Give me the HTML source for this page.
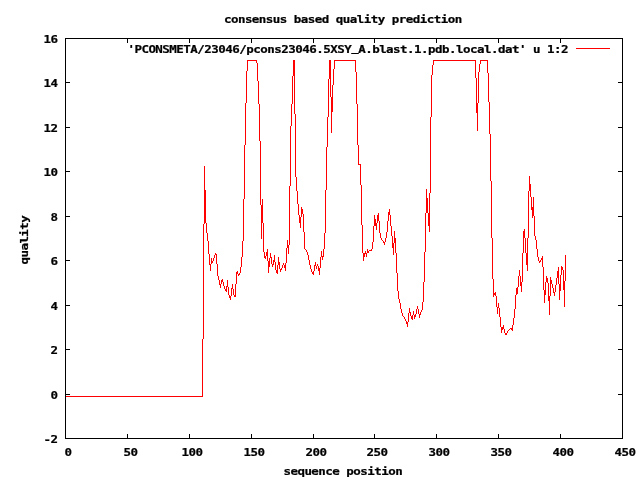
<!DOCTYPE html>
<html lang="en"><head><meta charset="utf-8"><title>consensus based quality prediction</title>
<style>html,body{margin:0;padding:0;background:#fff;width:640px;height:480px;overflow:hidden}svg{display:block}text{font-family:"DejaVu Sans Mono", "Liberation Mono", monospace;font-weight:bold;font-size:12.0px;fill:#000;stroke:#000;stroke-width:0.25px;white-space:pre;letter-spacing:-0.493px}</style></head><body>
<svg width="640" height="480" viewBox="0 0 640 480">
<rect width="640" height="480" fill="#fff"/>
<path fill="#f00" shape-rendering="crispEdges" d="M248 60h8v1h-8zM335 60h20v1h-20zM434 60h41v1h-41zM481 60h6v1h-6zM256 60h1v3h-1zM480 60h1v4h-1zM433 60h1v5h-1zM334 60h1v9h-1zM247 60h1v11h-1zM355 60h1v12h-1zM487 60h1v13h-1zM293 60h1v16h-1zM475 60h1v18h-1zM329 60h1v19h-1zM330 60h1v37h-1zM294 60h1v54h-1zM257 63h1v18h-1zM479 64h1v8h-1zM432 65h1v10h-1zM333 69h1v16h-1zM246 71h1v32h-1zM478 72h1v31h-1zM356 72h1v32h-1zM488 73h1v29h-1zM431 75h1v42h-1zM292 76h1v28h-1zM476 78h1v35h-1zM328 79h1v38h-1zM258 81h1v23h-1zM332 85h1v27h-1zM331 97h1v36h-1zM489 102h1v32h-1zM477 103h1v28h-1zM245 103h1v42h-1zM291 104h1v22h-1zM259 104h1v37h-1zM357 104h1v41h-1zM295 114h1v63h-1zM327 117h1v30h-1zM430 117h1v76h-1zM290 126h1v60h-1zM490 134h1v47h-1zM260 141h1v64h-1zM358 145h1v20h-1zM244 145h1v54h-1zM326 147h1v43h-1zM359 164h1v1h-1zM360 164h1v21h-1zM204 166h1v58h-1zM529 176h1v15h-1zM296 177h1v14h-1zM491 181h1v57h-1zM530 184h1v13h-1zM361 185h1v40h-1zM289 186h1v59h-1zM426 189h1v24h-1zM205 190h1v33h-1zM325 190h1v43h-1zM297 191h1v13h-1zM528 191h1v47h-1zM429 193h1v39h-1zM531 197h1v13h-1zM533 197h1v19h-1zM427 198h1v15h-1zM262 199h1v24h-1zM243 199h1v42h-1zM298 204h1v11h-1zM261 205h1v34h-1zM301 207h1v10h-1zM532 207h1v11h-1zM302 209h1v5h-1zM389 209h1v6h-1zM388 212h1v9h-1zM378 213h1v8h-1zM428 213h1v13h-1zM425 213h1v39h-1zM303 214h1v18h-1zM299 215h1v8h-1zM377 215h1v8h-1zM374 215h1v11h-1zM390 215h1v11h-1zM534 216h1v20h-1zM300 217h1v11h-1zM375 219h1v7h-1zM387 221h1v11h-1zM379 221h1v12h-1zM376 223h1v7h-1zM206 223h1v10h-1zM263 223h1v29h-1zM203 224h1v115h-1zM362 225h1v28h-1zM391 226h1v10h-1zM373 226h1v16h-1zM524 229h1v9h-1zM394 231h1v12h-1zM523 231h1v22h-1zM386 232h1v6h-1zM304 232h1v17h-1zM380 233h1v5h-1zM207 233h1v8h-1zM324 233h1v16h-1zM535 236h1v4h-1zM392 236h1v12h-1zM381 238h1v2h-1zM385 238h1v4h-1zM395 238h1v15h-1zM525 238h1v15h-1zM527 238h1v33h-1zM492 238h1v41h-1zM382 240h1v1h-1zM287 240h1v8h-1zM536 240h1v9h-1zM383 241h1v2h-1zM208 241h1v13h-1zM242 241h1v16h-1zM384 242h1v3h-1zM372 242h1v7h-1zM393 243h1v12h-1zM288 245h1v9h-1zM286 248h1v15h-1zM305 249h1v1h-1zM371 249h1v2h-1zM367 249h1v4h-1zM323 249h1v8h-1zM537 249h1v8h-1zM267 249h1v12h-1zM369 250h2v1h-2zM306 250h1v2h-1zM368 251h1v2h-1zM365 251h1v3h-1zM321 251h1v6h-1zM307 252h1v3h-1zM266 252h1v4h-1zM264 252h1v6h-1zM424 252h1v30h-1zM215 253h1v2h-1zM364 253h1v4h-1zM366 253h1v4h-1zM270 253h1v5h-1zM363 253h1v8h-1zM526 253h1v12h-1zM396 253h1v20h-1zM522 253h1v29h-1zM216 254h1v10h-1zM209 254h1v11h-1zM214 255h1v3h-1zM308 255h1v5h-1zM274 255h1v7h-1zM565 255h1v26h-1zM265 256h1v3h-1zM322 256h1v4h-1zM542 256h1v11h-1zM538 257h1v4h-1zM271 257h1v7h-1zM278 257h1v8h-1zM241 257h1v10h-1zM320 257h1v11h-1zM541 258h1v2h-1zM213 258h1v3h-1zM211 258h1v6h-1zM269 258h1v9h-1zM540 260h1v2h-1zM273 260h1v5h-1zM309 260h1v5h-1zM212 261h1v2h-1zM539 261h1v2h-1zM268 261h1v12h-1zM315 262h1v4h-1zM279 262h1v7h-1zM275 262h1v8h-1zM283 263h1v2h-1zM285 263h1v8h-1zM317 264h1v2h-1zM272 264h1v3h-1zM210 264h1v7h-1zM217 264h1v12h-1zM282 265h1v3h-1zM284 265h1v3h-1zM310 265h1v4h-1zM314 265h1v6h-1zM277 265h1v9h-1zM316 266h1v3h-1zM318 266h1v5h-1zM561 266h1v9h-1zM562 267h1v3h-1zM240 267h1v6h-1zM558 267h1v17h-1zM543 267h1v23h-1zM281 268h1v2h-1zM319 268h1v7h-1zM280 269h1v3h-1zM311 269h1v3h-1zM276 270h1v3h-1zM519 270h1v6h-1zM563 270h1v20h-1zM237 271h1v3h-1zM313 271h1v4h-1zM557 271h1v7h-1zM312 272h1v2h-1zM236 272h1v12h-1zM239 273h1v2h-1zM397 273h1v18h-1zM238 274h1v2h-1zM560 275h1v16h-1zM218 276h1v4h-1zM546 276h1v6h-1zM520 276h1v10h-1zM518 276h1v11h-1zM550 277h1v19h-1zM547 278h1v5h-1zM556 278h1v7h-1zM222 279h1v3h-1zM493 279h1v18h-1zM221 280h1v4h-1zM551 280h1v4h-1zM219 280h1v5h-1zM227 280h1v7h-1zM564 281h1v26h-1zM223 282h1v4h-1zM521 282h1v10h-1zM545 282h1v13h-1zM423 282h1v20h-1zM548 283h1v18h-1zM220 284h1v4h-1zM552 284h1v4h-1zM232 284h1v5h-1zM235 284h1v13h-1zM559 284h1v16h-1zM555 285h1v7h-1zM224 286h1v3h-1zM226 286h1v6h-1zM517 287h1v7h-1zM228 287h1v8h-1zM553 288h1v5h-1zM516 288h1v7h-1zM231 288h1v8h-1zM225 289h1v2h-1zM233 289h1v6h-1zM544 290h1v13h-1zM398 291h1v8h-1zM495 292h1v4h-1zM554 292h1v4h-1zM494 293h1v2h-1zM234 295h1v2h-1zM229 295h1v3h-1zM515 295h1v14h-1zM230 296h1v4h-1zM496 296h1v11h-1zM549 296h1v19h-1zM399 299h1v4h-1zM422 302h1v8h-1zM498 303h1v5h-1zM400 303h1v6h-1zM417 306h1v3h-1zM497 307h1v7h-1zM409 308h1v5h-1zM499 308h1v9h-1zM401 309h1v4h-1zM416 309h1v5h-1zM418 309h1v5h-1zM514 309h1v9h-1zM421 310h1v2h-1zM413 311h1v4h-1zM420 312h1v3h-1zM410 312h1v4h-1zM402 313h1v3h-1zM408 313h1v9h-1zM415 314h1v3h-1zM419 314h1v4h-1zM414 315h1v4h-1zM412 315h1v5h-1zM403 316h1v1h-1zM411 316h1v3h-1zM404 317h1v2h-1zM500 317h1v10h-1zM513 318h1v7h-1zM405 319h1v2h-1zM406 321h1v3h-1zM407 322h1v5h-1zM503 325h1v4h-1zM512 325h1v6h-1zM502 327h1v3h-1zM501 327h1v6h-1zM510 328h1v1h-1zM511 328h1v2h-1zM509 329h1v1h-1zM504 329h1v4h-1zM508 330h1v1h-1zM507 331h1v2h-1zM505 333h2v2h-2zM202 339h1v58h-1zM66 396h136v1h-136z"/>
<rect x="576" y="48" width="34" height="1" fill="#f00" shape-rendering="crispEdges"/>
<path fill="#000" shape-rendering="crispEdges" d="M65 38h558v1h-558zM65 438h558v1h-558zM65 38h1v401h-1zM622 38h1v401h-1zM65 434h1v5h-1zM65 38h1v5h-1zM127 434h1v5h-1zM127 38h1v5h-1zM189 434h1v5h-1zM189 38h1v5h-1zM251 434h1v5h-1zM251 38h1v5h-1zM313 434h1v5h-1zM313 38h1v5h-1zM374 434h1v5h-1zM374 38h1v5h-1zM436 434h1v5h-1zM436 38h1v5h-1zM498 434h1v5h-1zM498 38h1v5h-1zM560 434h1v5h-1zM560 38h1v5h-1zM622 434h1v5h-1zM622 38h1v5h-1zM65 438h5v1h-5zM618 438h5v1h-5zM65 394h5v1h-5zM618 394h5v1h-5zM65 349h5v1h-5zM618 349h5v1h-5zM65 305h5v1h-5zM618 305h5v1h-5zM65 260h5v1h-5zM618 260h5v1h-5zM65 216h5v1h-5zM618 216h5v1h-5zM65 171h5v1h-5zM618 171h5v1h-5zM65 127h5v1h-5zM618 127h5v1h-5zM65 82h5v1h-5zM618 82h5v1h-5zM65 38h5v1h-5zM618 38h5v1h-5z"/>
<g opacity="0.999"><text transform="translate(223.90 23.00) scale(1.0400 0.9000)">consensus based quality prediction</text>
<text transform="translate(127.40 53.00) scale(1.0400 0.9000)">'PCONSMETA/23046/pcons23046.5XSY<tspan dy="-2.4">_</tspan><tspan dy="2.4">A.blast.1.pdb.local.dat' u 1:2</tspan></text>
<text transform="translate(283.40 475.00) scale(1.0400 0.9000)">sequence position</text>
<text transform="translate(64.40 456.00) scale(1.0400 0.9000)">0</text>
<text transform="translate(123.40 456.00) scale(1.0400 0.9000)">50</text>
<text transform="translate(181.40 456.00) scale(1.0400 0.9000)">100</text>
<text transform="translate(243.40 456.00) scale(1.0400 0.9000)">150</text>
<text transform="translate(305.40 456.00) scale(1.0400 0.9000)">200</text>
<text transform="translate(366.40 456.00) scale(1.0400 0.9000)">250</text>
<text transform="translate(428.40 456.00) scale(1.0400 0.9000)">300</text>
<text transform="translate(490.40 456.00) scale(1.0400 0.9000)">350</text>
<text transform="translate(552.40 456.00) scale(1.0400 0.9000)">400</text>
<text transform="translate(614.40 456.00) scale(1.0400 0.9000)">450</text>
<text transform="translate(43.40 443.00) scale(1.0400 0.9000)">-2</text>
<text transform="translate(50.40 399.00) scale(1.0400 0.9000)">0</text>
<text transform="translate(50.40 354.00) scale(1.0400 0.9000)">2</text>
<text transform="translate(50.40 310.00) scale(1.0400 0.9000)">4</text>
<text transform="translate(50.40 265.00) scale(1.0400 0.9000)">6</text>
<text transform="translate(50.40 221.00) scale(1.0400 0.9000)">8</text>
<text transform="translate(43.40 176.00) scale(1.0400 0.9000)">10</text>
<text transform="translate(43.40 132.00) scale(1.0400 0.9000)">12</text>
<text transform="translate(43.40 87.00) scale(1.0400 0.9000)">14</text>
<text transform="translate(43.40 43.00) scale(1.0400 0.9000)">16</text>
<text transform="translate(27.70 264.60) rotate(-90) scale(1.0400 0.9000)">quality</text></g>
</svg></body></html>
